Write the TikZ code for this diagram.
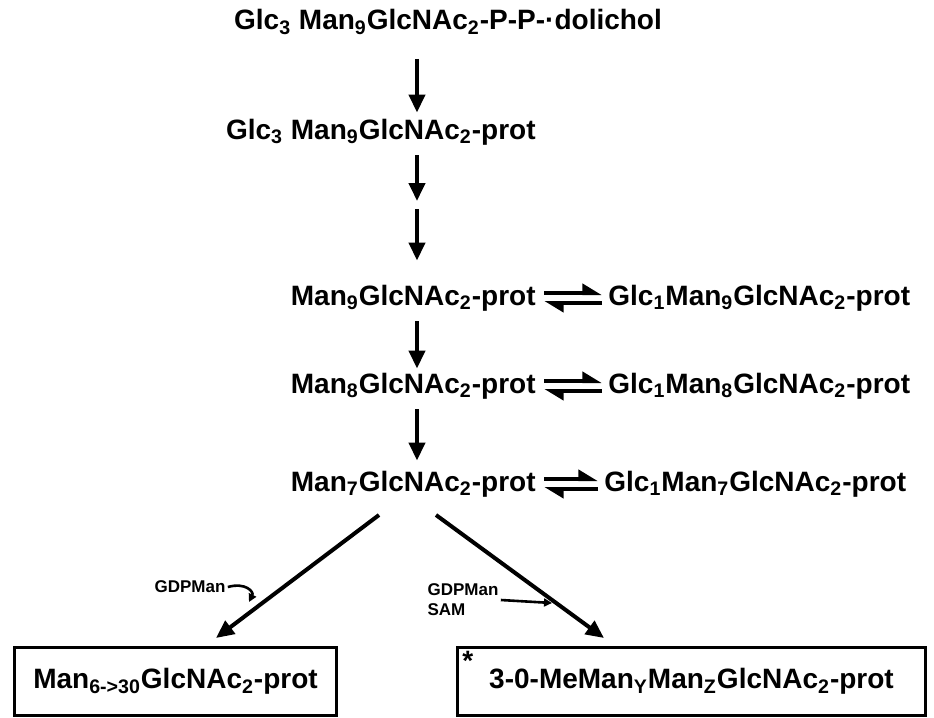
\documentclass[tikz,border=0pt]{standalone}
\usepackage{fontspec}
\setmainfont{Liberation Sans}
\usetikzlibrary{arrows.meta,calc,positioning}
\newcommand{\subs}[1]{\textsubscript{#1}}

\begin{document}
\begin{tikzpicture}[x=0.5pt,y=-0.5pt,>={Triangle[length=9pt,width=8pt]},
  cmp/.style={font=\bfseries\fontsize{14}{16}\selectfont,inner sep=2pt},
  rxn/.style={->,line width=2pt},
  eqarr/.style={line width=2pt,-{Triangle[harpoon,length=8pt,width=9pt]}},
  cofac/.style={font=\bfseries\fontsize{8.5}{10}\selectfont,inner sep=1pt,align=left},
  prodbox/.style={cmp,draw,line width=1.5pt,minimum height=34pt,anchor=north west}]
  \useasboundingbox (0,0) rectangle (934,718);

  % main chain
  \node[cmp] (dol) at (448,22) {Glc\subs{3} Man\subs{9}GlcNAc\subs{2}-P-P-·dolichol};
  \node[cmp,anchor=east] (g3m9) at (540,132) {Glc\subs{3} Man\subs{9}GlcNAc\subs{2}-prot};
  \node[cmp,anchor=east] (m9) at (540,298) {Man\subs{9}GlcNAc\subs{2}-prot};
  \node[cmp,anchor=east] (m8) at (540,386) {Man\subs{8}GlcNAc\subs{2}-prot};
  \node[cmp,anchor=east] (m7) at (540,484) {Man\subs{7}GlcNAc\subs{2}-prot};
  % glucosylated forms
  \node[cmp,anchor=west] (g1m9) at (604,298) {Glc\subs{1}Man\subs{9}GlcNAc\subs{2}-prot};
  \node[cmp,anchor=west] (g1m8) at (604,386) {Glc\subs{1}Man\subs{8}GlcNAc\subs{2}-prot};
  \node[cmp,anchor=west] (g1m7) at (600,484) {Glc\subs{1}Man\subs{7}GlcNAc\subs{2}-prot};

  \coordinate (col) at (417,0);
  \coordinate (via) at (417,205);
  \draw[rxn,shorten <=10pt,shorten >=1pt] (dol.south -| col) -- (g3m9.north -| col);
  \draw[rxn,shorten <=3pt,shorten >=1pt] (g3m9.south -| col) -- ([yshift=1pt]via);
  \draw[rxn,shorten <=1pt,shorten >=10pt] ([yshift=-1pt]via) -- (m9.north -| col);
  \draw[rxn,shorten <=3pt,shorten >=0pt] (m9.south -| col) -- (m8.north -| col);
  \draw[rxn,shorten <=3pt,shorten >=3pt] (m8.south -| col) -- (m7.north -| col);

  \foreach \a/\b in {m9/g1m9,m8/g1m8,m7/g1m7}{
    \draw[eqarr] ([shift={(2pt,2.5pt)}]\a.east) -- ([shift={(-1pt,2.5pt)}]\b.west);
    \draw[eqarr] ([shift={(-1pt,-2.5pt)}]\b.west) -- ([shift={(2pt,-2.5pt)}]\a.east);
  }

  % end products
  \node[prodbox,minimum width=161pt] (pl) at (13,646) {Man\subs{6->30}GlcNAc\subs{2}-prot};
  \node[prodbox,minimum width=234pt] (pr) at (456,646) {3-0-MeMan\subs{Y}Man\subs{Z}GlcNAc\subs{2}-prot};
  \node[cmp,anchor=north west,inner sep=0pt] (star) at ([shift={(3pt,-2.5pt)}]pr.north west) {*};

  \coordinate (sl) at (379,515);
  \coordinate (sr) at (436,515);
  \coordinate (el) at (216,638);
  \coordinate (er) at (604,638);
  \draw[rxn] (sl) -- (el);
  \draw[rxn] (sr) -- (er);

  \node[cofac] (gdp1) at (190,587) {GDPMan};
  \node[cofac] (gdp2) at (463,600) {GDPMan\\SAM};
  \draw[line width=1.3pt,->,>={Triangle[length=4pt,width=4pt]}]
    (gdp1.east) .. controls (246,582) and (254,592) .. (249,602);
  \draw[line width=1.3pt,->,>={Triangle[length=4pt,width=4pt]}]
    (gdp2.east) -- (552,603);
\end{tikzpicture}
\end{document}
